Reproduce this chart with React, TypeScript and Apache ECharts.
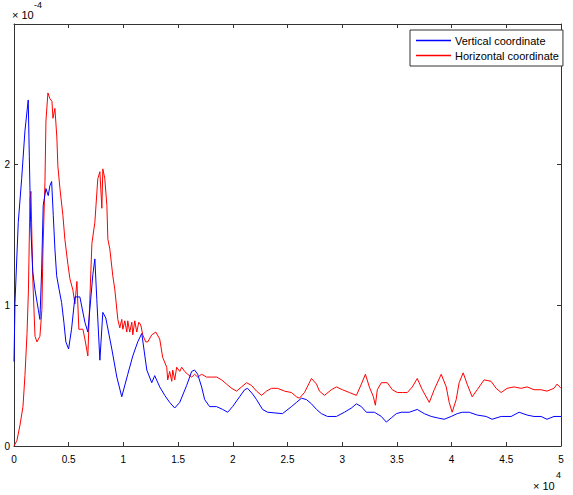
import React, { useEffect, useRef } from "react";
import * as echarts from "echarts";

// x in units of 1e4, y in units of 1e-4
const verticalX = [0, 0.009, 0.039, 0.07, 0.1, 0.13, 0.14, 0.152, 0.171, 0.192, 0.222, 0.237, 0.253, 0.267, 0.292, 0.313, 0.328, 0.344, 0.359, 0.374, 0.39, 0.413, 0.435, 0.456, 0.474, 0.499, 0.526, 0.557, 0.602, 0.648, 0.675, 0.693, 0.721, 0.739, 0.757, 0.785, 0.812, 0.839, 0.894, 0.94, 0.985, 1.04, 1.086, 1.131, 1.168, 1.214, 1.259, 1.286, 1.332, 1.378, 1.423, 1.469, 1.515, 1.578, 1.624, 1.651, 1.679, 1.715, 1.743, 1.788, 1.852, 1.907, 1.953, 1.998, 2.062, 2.108, 2.135, 2.181, 2.217, 2.272, 2.318, 2.454, 2.536, 2.582, 2.628, 2.673, 2.719, 2.765, 2.81, 2.865, 2.947, 3.02, 3.084, 3.13, 3.175, 3.221, 3.294, 3.358, 3.403, 3.449, 3.495, 3.54, 3.613, 3.686, 3.75, 3.814, 3.869, 3.932, 3.996, 4.051, 4.097, 4.161, 4.234, 4.316, 4.37, 4.453, 4.544, 4.617, 4.69, 4.753, 4.818, 4.872, 4.936, 5.0];
const verticalY = [0.6, 1.02, 1.59, 1.9, 2.24, 2.46, 2.06, 1.59, 1.24, 1.11, 0.97, 0.9, 1.26, 1.71, 1.83, 1.78, 1.85, 1.88, 1.64, 1.4, 1.21, 1.11, 1.02, 0.88, 0.74, 0.69, 0.83, 1.06, 1.06, 0.88, 0.81, 0.97, 1.22, 1.33, 1.04, 0.61, 0.95, 0.91, 0.69, 0.49, 0.35, 0.51, 0.64, 0.74, 0.8, 0.54, 0.45, 0.5, 0.42, 0.36, 0.31, 0.27, 0.31, 0.43, 0.53, 0.54, 0.51, 0.42, 0.33, 0.28, 0.28, 0.26, 0.24, 0.28, 0.35, 0.4, 0.41, 0.37, 0.33, 0.26, 0.24, 0.23, 0.28, 0.31, 0.34, 0.33, 0.3, 0.26, 0.23, 0.21, 0.21, 0.24, 0.27, 0.3, 0.28, 0.24, 0.24, 0.21, 0.17, 0.2, 0.23, 0.24, 0.24, 0.26, 0.23, 0.21, 0.2, 0.19, 0.21, 0.23, 0.24, 0.24, 0.22, 0.21, 0.19, 0.21, 0.21, 0.24, 0.22, 0.21, 0.21, 0.19, 0.21, 0.21];

const horizontalX = [0, 0.027, 0.055, 0.082, 0.1, 0.119, 0.132, 0.146, 0.155, 0.164, 0.173, 0.192, 0.21, 0.237, 0.255, 0.265, 0.283, 0.292, 0.31, 0.328, 0.347, 0.356, 0.374, 0.392, 0.401, 0.42, 0.447, 0.465, 0.493, 0.511, 0.538, 0.557, 0.575, 0.593, 0.63, 0.648, 0.675, 0.693, 0.712, 0.739, 0.766, 0.785, 0.803, 0.812, 0.83, 0.849, 0.858, 0.876, 0.903, 0.922, 0.949, 0.967, 0.985, 0.995, 1.013, 1.031, 1.04, 1.058, 1.077, 1.086, 1.104, 1.122, 1.141, 1.159, 1.177, 1.204, 1.223, 1.259, 1.296, 1.332, 1.359, 1.396, 1.405, 1.423, 1.442, 1.451, 1.469, 1.487, 1.515, 1.533, 1.56, 1.588, 1.624, 1.651, 1.679, 1.715, 1.761, 1.807, 1.852, 1.898, 1.943, 1.989, 2.035, 2.08, 2.126, 2.172, 2.217, 2.263, 2.308, 2.354, 2.409, 2.473, 2.536, 2.582, 2.609, 2.655, 2.719, 2.765, 2.792, 2.838, 2.901, 2.947, 3.002, 3.066, 3.13, 3.175, 3.212, 3.248, 3.285, 3.303, 3.321, 3.358, 3.412, 3.458, 3.504, 3.549, 3.595, 3.641, 3.686, 3.732, 3.796, 3.841, 3.905, 3.951, 3.978, 4.005, 4.042, 4.069, 4.106, 4.142, 4.188, 4.234, 4.297, 4.361, 4.407, 4.453, 4.507, 4.571, 4.635, 4.69, 4.754, 4.818, 4.872, 4.936, 4.964, 5.0];
const horizontalY = [0, 0.04, 0.15, 0.28, 0.5, 0.8, 1.11, 1.76, 1.81, 1.47, 1.16, 0.78, 0.74, 0.78, 0.97, 1.4, 1.88, 2.31, 2.51, 2.47, 2.45, 2.33, 2.4, 2.19, 1.99, 1.83, 1.64, 1.47, 1.29, 1.19, 1.11, 1.01, 1.17, 0.83, 0.83, 0.76, 0.64, 1.04, 1.44, 1.59, 1.9, 1.95, 1.69, 1.97, 1.9, 1.71, 1.47, 1.4, 1.21, 1.11, 0.9, 0.84, 0.9, 0.83, 0.89, 0.81, 0.89, 0.81, 0.88, 0.79, 0.89, 0.81, 0.88, 0.86, 0.79, 0.74, 0.74, 0.79, 0.81, 0.76, 0.63, 0.56, 0.47, 0.53, 0.46, 0.54, 0.47, 0.56, 0.53, 0.56, 0.53, 0.51, 0.49, 0.51, 0.49, 0.51, 0.49, 0.49, 0.49, 0.47, 0.44, 0.41, 0.39, 0.42, 0.45, 0.43, 0.39, 0.36, 0.39, 0.41, 0.41, 0.39, 0.38, 0.35, 0.34, 0.38, 0.48, 0.44, 0.39, 0.36, 0.4, 0.42, 0.4, 0.38, 0.36, 0.44, 0.51, 0.42, 0.35, 0.29, 0.4, 0.45, 0.45, 0.4, 0.38, 0.38, 0.38, 0.42, 0.48, 0.4, 0.31, 0.4, 0.51, 0.42, 0.31, 0.24, 0.33, 0.45, 0.52, 0.44, 0.35, 0.4, 0.47, 0.46, 0.41, 0.38, 0.41, 0.42, 0.41, 0.42, 0.4, 0.4, 0.39, 0.41, 0.44, 0.41];

const seriesNames = ["Vertical coordinate", "Horizontal coordinate"];
const seriesColors = ["#0000ff", "#ff0000"];
const xTicks = [0, 0.5, 1, 1.5, 2, 2.5, 3, 3.5, 4, 4.5, 5];
const yTicks = [0, 1, 2];

const FONT = "'Liberation Sans', Arial, Helvetica, sans-serif";

function zip(xs: number[], ys: number[]) {
  return xs.map((x, i) => [x, ys[i]]);
}

export default function App() {
  const ref = useRef<HTMLDivElement>(null);
  useEffect(() => {
    if (!ref.current) return;
    const chart = echarts.init(ref.current, null, { renderer: "svg" });
    const axisLine = { show: true, onZero: false, lineStyle: { color: "#333", width: 1 } };
    const tick = { show: true, inside: true, length: 4, lineStyle: { color: "#333", width: 1 } };
    chart.setOption({
      animation: false,
      backgroundColor: "#fff",
      grid: { left: 14, right: 12, top: 24, bottom: 49, containLabel: false },
      legend: {
        orient: "vertical",
        left: 410,
        top: 30,
        padding: [5, 4, 5, 6],
        itemGap: 4,
        itemWidth: 35,
        itemHeight: 1.5,
        icon: "rect",
        backgroundColor: "#fff",
        borderColor: "#333",
        borderWidth: 1,
        borderRadius: 0,
        textStyle: { fontFamily: FONT, fontSize: 11, color: "#000", padding: [0, 0, 0, -1] },
        data: seriesNames.map((n, i) => ({ name: n, itemStyle: { color: seriesColors[i] } })),
      },
      xAxis: [
        {
          type: "value",
          min: 0,
          max: 5,
          interval: 0.5,
          position: "bottom",
          axisLine,
          axisTick: tick,
          splitLine: { show: false },
          axisLabel: {
            fontFamily: FONT,
            fontSize: 10,
            color: "#000",
            margin: 8,
            formatter: (v: number) => (xTicks.some((t) => Math.abs(t - v) < 1e-9) ? String(v) : ""),
          },
        },
        {
          type: "value",
          min: 0,
          max: 5,
          interval: 0.5,
          position: "top",
          axisLine,
          axisTick: tick,
          splitLine: { show: false },
          axisLabel: { show: false },
        },
      ],
      yAxis: [
        {
          type: "value",
          min: 0,
          max: 3,
          interval: 1,
          position: "left",
          axisLine,
          axisTick: tick,
          splitLine: { show: false },
          axisLabel: {
            fontFamily: FONT,
            fontSize: 10,
            color: "#000",
            margin: 4,
            formatter: (v: number) => (yTicks.includes(v) ? String(v) : ""),
          },
        },
        {
          type: "value",
          min: 0,
          max: 3,
          interval: 1,
          position: "right",
          axisLine,
          axisTick: tick,
          splitLine: { show: false },
          axisLabel: { show: false },
        },
      ],
      series: [
        {
          name: seriesNames[0],
          type: "line",
          data: zip(verticalX, verticalY),
          showSymbol: false,
          symbol: "none",
          lineStyle: { color: seriesColors[0], width: 1 },
          itemStyle: { color: seriesColors[0] },
          z: 3,
        },
        {
          name: seriesNames[1],
          type: "line",
          data: zip(horizontalX, horizontalY),
          showSymbol: false,
          symbol: "none",
          lineStyle: { color: seriesColors[1], width: 1 },
          itemStyle: { color: seriesColors[1] },
          z: 2,
        },
      ],
      graphic: [
        { type: "text", left: 12, top: 9, style: { text: "× 10", fontFamily: FONT, fontSize: 11, fill: "#000" } },
        { type: "text", left: 34, top: 0, style: { text: "-4", fontFamily: FONT, fontSize: 9, fill: "#000" } },
        { type: "text", left: 533, top: 480, style: { text: "× 10", fontFamily: FONT, fontSize: 11, fill: "#000" } },
        { type: "text", left: 556, top: 470, style: { text: "4", fontFamily: FONT, fontSize: 9, fill: "#000" } },
      ],
    });
    return () => chart.dispose();
  }, []);
  return <div ref={ref} style={{ width: 573, height: 495, position: "absolute", left: 0, top: 0 }} />;
}
